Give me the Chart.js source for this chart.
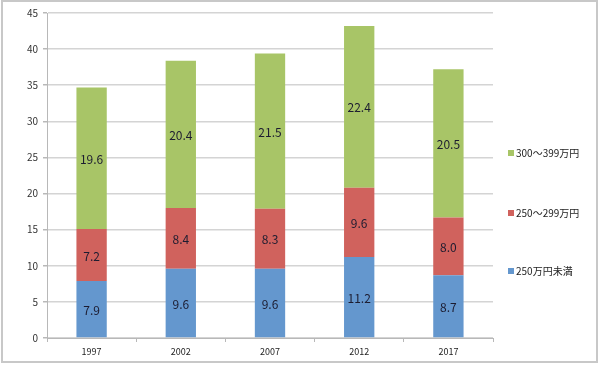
<!DOCTYPE html>
<html>
<head>
<meta charset="utf-8">
<script src="https://cdn.jsdelivr.net/npm/chart.js@4/dist/chart.umd.min.js"></script>
<style>
  html, body { margin: 0; padding: 0; background: #fff; }
  #wrap { width: 599px; height: 365px; position: relative; }
</style>
</head>
<body>
<div id="wrap"><canvas id="chart" width="599" height="365"></canvas></div>
<script>
const years = ["1997", "2002", "2007", "2012", "2017"];
const under250 = [7.9, 9.6, 9.6, 11.2, 8.7];
const from250to299 = [7.2, 8.4, 8.3, 9.6, 8.0];
const from300to399 = [19.6, 20.4, 21.5, 22.4, 20.5];
const seriesNames = ["250万円未満", "250～299万円", "300～399万円"];
const yTicks = [0, 5, 10, 15, 20, 25, 30, 35, 40, 45];

const colors = ["#6497CE", "#D0625D", "#A8C567"];
const fontFamily = "'Noto Sans CJK JP', 'Noto Sans', sans-serif";

// value labels in the middle of each segment
const barLabels = {
  id: "barLabels",
  afterDatasetsDraw(chart) {
    const ctx = chart.ctx;
    ctx.save();
    ctx.font = "12px " + fontFamily;
    ctx.fillStyle = "#1c1c30";
    ctx.textAlign = "center";
    ctx.textBaseline = "middle";
    chart.data.datasets.forEach((ds, i) => {
      chart.getDatasetMeta(i).data.forEach((bar, j) => {
        const p = bar.getCenterPoint();
        ctx.fillText(ds.data[j].toFixed(1), p.x, p.y + 1);
      });
    });
    ctx.restore();
  },
};

// legend on the right, top entry is the last series
const sideLegend = {
  id: "sideLegend",
  afterDraw(chart) {
    const ctx = chart.ctx;
    const rows = [271, 213, 153];
    ctx.save();
    ctx.font = "10px " + fontFamily;
    ctx.textBaseline = "middle";
    chart.data.datasets.forEach((ds, i) => {
      const y = rows[i];
      ctx.fillStyle = ds.backgroundColor;
      ctx.fillRect(508, y - 3, 6, 6);
      ctx.fillStyle = "#222";
      ctx.fillText(ds.label, 516, y);
    });
    ctx.restore();
  },
};

// light frame around the whole picture
const frame = {
  id: "frame",
  beforeDraw(chart) {
    const ctx = chart.ctx;
    ctx.save();
    ctx.fillStyle = "#fff";
    ctx.fillRect(0, 0, chart.width, chart.height);
    ctx.strokeStyle = "#c8c8c8";
    ctx.lineWidth = 2;
    ctx.strokeRect(2, 1, 595, 361);
    ctx.restore();
  },
};

new Chart(document.getElementById("chart"), {
  type: "bar",
  data: {
    labels: years,
    datasets: [
      { label: seriesNames[0], data: under250, backgroundColor: colors[0] },
      { label: seriesNames[1], data: from250to299, backgroundColor: colors[1] },
      { label: seriesNames[2], data: from300to399, backgroundColor: colors[2] },
    ],
  },
  options: {
    responsive: false,
    animation: false,
    layout: { padding: { left: 0, top: 13, right: 106, bottom: 0 } },
    datasets: { bar: { categoryPercentage: 1, barPercentage: 0.34 } },
    plugins: { legend: { display: false }, tooltip: { enabled: false } },
    scales: {
      x: {
        stacked: true,
        grid: { offset: true, drawOnChartArea: false, drawTicks: true, tickLength: 4, color: "#b8b8b8" },
        border: { color: "#b8b8b8", width: 1 },
        ticks: { color: "#222", font: { size: 9, family: fontFamily }, padding: 4 },
        afterFit(scale) { scale.height = 27; },
      },
      y: {
        stacked: true,
        min: 0,
        max: 45,
        afterBuildTicks(scale) { scale.ticks = yTicks.map((v) => ({ value: v })); },
        grid: { color: "#d4d4d4", lineWidth: 1.5, tickLength: 4, tickColor: "#b8b8b8" },
        border: { color: "#b8b8b8", width: 1 },
        ticks: { color: "#333", font: { size: 10, family: fontFamily }, padding: 5 },
        afterFit(scale) { scale.width = 47; },
      },
    },
  },
  plugins: [frame, barLabels, sideLegend],
});
</script>
</body>
</html>
